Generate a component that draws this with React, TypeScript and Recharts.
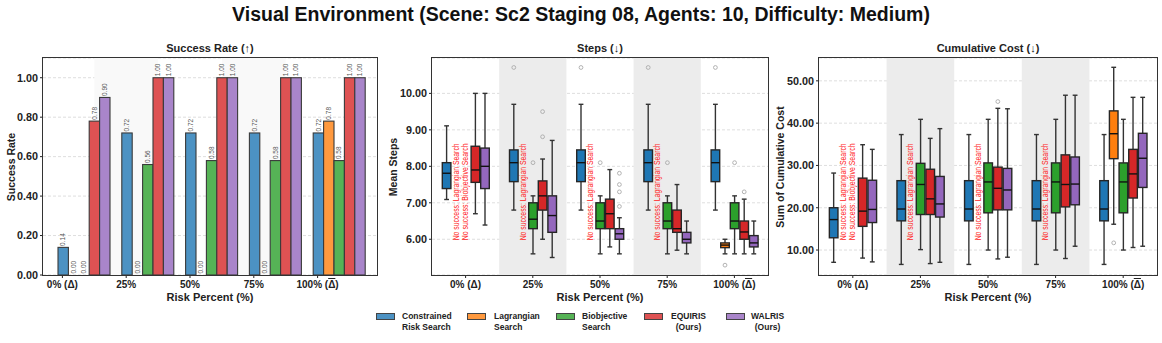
import { BarChart, Bar, XAxis, YAxis, CartesianGrid, ReferenceArea } from 'recharts';

const RISK_LABELS = ['0% (Δ)', '25%', '50%', '75%', '100% (Δ̄)'];
const METHOD_NAMES = ['Constrained Risk Search', 'Lagrangian Search', 'Biobjective Search', 'EQUIRIS (Ours)', 'WALRIS (Ours)'];
const LEGEND_LINES = [['Constrained', 'Risk Search'], ['Lagrangian', 'Search'], ['Biobjective', 'Search'], ['EQUIRIS', '(Ours)'], ['WALRIS', '(Ours)']];
const SHADED_GROUPS = [1, 3];

// success rate per risk level
const SUCCESS_CRS = [0.14, 0.72, 0.72, 0.72, 0.72];
const SUCCESS_LAG = [0.0, 0.0, 0.0, 0.0, 0.78];
const SUCCESS_BIO = [0.0, 0.56, 0.58, 0.58, 0.58];
const SUCCESS_EQU = [0.78, 1.0, 1.0, 1.0, 1.0];
const SUCCESS_WAL = [0.9, 1.0, 1.0, 1.0, 1.0];
const SUCCESS_TICKS = [0, 0.2, 0.4, 0.6, 0.8, 1.0];

// box stats: [lower whisker, q1, median, q3, upper whisker], null = no success
const STEPS_CRS = [[7.09, 7.39, 7.81, 8.1, 9.11], [6.8, 7.58, 8.1, 8.45, 9.7], [6.8, 7.58, 8.1, 8.45, 9.7], [6.8, 7.58, 8.1, 8.45, 9.7], [6.8, 7.58, 8.1, 8.45, 9.7]];
const STEPS_LAG = [null, null, null, null, [5.6, 5.77, 5.84, 5.9, 6.0]];
const STEPS_BIO = [null, [5.6, 6.29, 6.55, 7.0, 7.19], [5.6, 6.29, 6.5, 7.0, 7.19], [5.6, 6.29, 6.5, 7.0, 7.19], [5.6, 6.29, 6.5, 7.0, 7.19]];
const STEPS_EQU = [[6.7, 7.56, 7.9, 8.55, 10.0], [6.0, 6.8, 7.19, 7.6, 8.2], [5.79, 6.29, 6.7, 7.1, 7.91], [5.7, 6.19, 6.29, 6.8, 7.5], [5.6, 6.0, 6.2, 6.5, 7.1]];
const STEPS_WAL = [[6.39, 7.39, 8.0, 8.5, 10.0], [5.5, 6.19, 6.65, 7.19, 8.71], [5.6, 6.0, 6.15, 6.29, 6.59], [5.6, 5.9, 6.0, 6.19, 6.5], [5.6, 5.79, 5.9, 6.1, 6.5]];
const STEPS_CRS_OUT = [[], [10.71], [10.71], [10.71], [10.71]];
const STEPS_LAG_OUT = [[], [], [], [], [5.29]];
const STEPS_BIO_OUT = [[], [8.1], [8.1], [8.1], [8.1]];
const STEPS_EQU_OUT = [[], [9.5, 8.81], [], [], [7.3]];
const STEPS_WAL_OUT = [[], [], [7.81, 7.5, 7.3, 6.9], [], []];
const STEPS_TICKS = [6, 7, 8, 9, 10];

const COST_CRS = [[7.1, 12.9, 17.2, 20.0, 28.2], [6.6, 16.9, 19.7, 26.4, 37.3], [6.6, 16.9, 19.7, 26.4, 37.3], [6.6, 16.9, 19.7, 26.4, 37.3], [6.6, 16.9, 19.7, 26.4, 37.3]];
const COST_LAG = [null, null, null, null, [16.1, 31.6, 37.5, 42.9, 53.2]];
const COST_BIO = [null, [10.1, 18.4, 25.5, 30.5, 40.9], [10.0, 18.8, 26.1, 30.6, 40.9], [10.0, 18.8, 26.1, 30.6, 40.9], [10.0, 18.8, 26.1, 30.6, 40.9]];
const COST_EQU = [[8.1, 15.6, 19.2, 27.0, 34.9], [6.8, 18.4, 22.1, 29.1, 36.4], [7.9, 19.5, 24.6, 29.6, 43.5], [8.0, 20.2, 25.5, 32.5, 46.6], [10.6, 22.3, 28.0, 33.8, 46.1]];
const COST_WAL = [[7.2, 16.5, 19.6, 26.5, 33.8], [7.1, 17.8, 20.9, 27.4, 38.7], [8.3, 19.5, 24.2, 29.3, 43.4], [10.9, 20.7, 25.6, 32.0, 46.6], [10.9, 24.8, 31.7, 37.6, 46.1]];
const COST_CRS_OUT = [[], [], [], [], []];
const COST_LAG_OUT = [[], [], [], [], [11.7]];
const COST_BIO_OUT = [[], [], [], [], []];
const COST_EQU_OUT = [[], [], [45.1], [], []];
const COST_WAL_OUT = [[], [], [], [], []];
const COST_TICKS = [10, 20, 30, 40, 50];

const BAR_FILL = ['#4c92c3', '#ff993e', '#56b356', '#de5253', '#a985ca'];
const BOX_FILL = ['#1f77b4', '#ff7f0e', '#2ca02c', '#d62728', '#9467bd'];
const SUCCESS_KEYS = ['crs', 'lag', 'bio', 'equ', 'wal'];
const BAR_SIZE = 10.4;
const TICK_SHIFT = 21.5;
const FONT = "'Liberation Sans', Arial, sans-serif";
const INK = '#222';

const successRows = RISK_LABELS.map((risk, i) => ({
    risk,
    crs: SUCCESS_CRS[i],
    lag: SUCCESS_LAG[i],
    bio: SUCCESS_BIO[i],
    equ: SUCCESS_EQU[i],
    wal: SUCCESS_WAL[i],
}));

// 7 slots per risk level: gap, 5 methods, gap
function buildSlots(stats: any[][], outliers: number[][][], noteAt: number) {
    const rows: any[] = [];
    RISK_LABELS.forEach((label, g) => {
        for (let s = 0; s < 7; s++) {
            const m = s - 1;
            const row: any = { key: `${g}-${s}`, label: s === 3 ? label : '', kind: 'gap' };
            if (m >= 0 && m < 5) {
                const st = stats[m][g];
                if (st) {
                    const out = outliers[m][g];
                    Object.assign(row, {
                        kind: 'box', stat: st, out, color: BOX_FILL[m],
                        lo: Math.min(st[0], ...out), hi: Math.max(st[4], ...out),
                    });
                } else {
                    Object.assign(row, { kind: 'note', text: `No success: ${METHOD_NAMES[m]}`, lo: noteAt, hi: noteAt + 1 });
                }
            }
            rows.push(row);
        }
    });
    return rows;
}

const stepsRows = buildSlots(
    [STEPS_CRS, STEPS_LAG, STEPS_BIO, STEPS_EQU, STEPS_WAL],
    [STEPS_CRS_OUT, STEPS_LAG_OUT, STEPS_BIO_OUT, STEPS_EQU_OUT, STEPS_WAL_OUT],
    5.97
);
const costRows = buildSlots(
    [COST_CRS, COST_LAG, COST_BIO, COST_EQU, COST_WAL],
    [COST_CRS_OUT, COST_LAG_OUT, COST_BIO_OUT, COST_EQU_OUT, COST_WAL_OUT],
    12.3
);

const rangeOf = (d: any) => (d.kind === 'gap' ? null : [d.lo, d.hi]);

function TickText({ x, y, label }: { x: number; y: number; label: string }) {
    const barred = label.includes('\u0304');
    return (
        <text x={x} y={y} dy="0.8em" textAnchor="middle" fontSize={10} fontWeight={700} fill={INK}>
            {barred ? (
                <>
                    {label.split('Δ')[0]}
                    <tspan style={{ textDecoration: 'overline' }}>Δ</tspan>)
                </>
            ) : label}
        </text>
    );
}

function BarTick(props: any) {
    const { x, y, payload } = props;
    const tx = x - TICK_SHIFT;
    return (
        <g>
            <line x1={tx} x2={tx} y1={y - 5} y2={y - 2} stroke={INK} />
            <TickText x={tx} y={y} label={payload.value} />
        </g>
    );
}

function SlotTick(props: any) {
    const { x, y, payload, rows } = props;
    const row = rows.find((r: any) => r.key === payload.value);
    if (!row || !row.label) return <g />;
    return (
        <g>
            <line x1={x} x2={x} y1={y - 5} y2={y - 2} stroke={INK} />
            <TickText x={x} y={y} label={row.label} />
        </g>
    );
}

// bar rectangle plus its rotated value label (also drawn for zero bars)
function SuccessBar(props: any) {
    const { x, y, width, height, fill, payload, field } = props;
    const v = payload ? payload[field] : 0;
    const cx = x + width / 2;
    const ty = y - 1.5;
    return (
        <g>
            {height > 0.5 && (
                <rect x={x} y={y} width={width} height={height} fill={fill} stroke="#3a3a3a" strokeWidth={1.1} />
            )}
            <text x={cx} y={ty} dy="0.35em" transform={`rotate(-90 ${cx} ${ty})`} fontSize={6.5} fill="#555" textAnchor="start">
                {Number(v).toFixed(2)}
            </text>
        </g>
    );
}

function BoxShape(props: any) {
    const { x, y, width, height, payload } = props;
    if (!payload || payload.kind === 'gap') return <g />;
    const cx = x + width / 2;
    const ppu = height / (payload.hi - payload.lo);
    const py = (v: number) => y + (payload.hi - v) * ppu;
    if (payload.kind === 'note') {
        const tx = cx - 1;
        const by = y + height;
        return (
            <text x={tx} y={by} dy="0.35em" transform={`rotate(-90 ${tx} ${by})`} fontSize={9.5} fill="#f22"
                textLength={97} lengthAdjust="spacingAndGlyphs">
                {payload.text}
            </text>
        );
    }
    const [w0, q1, md, q3, w1] = payload.stat;
    const hw = 4.3;
    const cap = 2.4;
    return (
        <g>
            <line x1={cx} x2={cx} y1={py(w1)} y2={py(q3)} stroke="#333" strokeWidth={1.4} />
            <line x1={cx} x2={cx} y1={py(q1)} y2={py(w0)} stroke="#333" strokeWidth={1.4} />
            <line x1={cx - cap} x2={cx + cap} y1={py(w1)} y2={py(w1)} stroke="#333" strokeWidth={1.4} />
            <line x1={cx - cap} x2={cx + cap} y1={py(w0)} y2={py(w0)} stroke="#333" strokeWidth={1.4} />
            <rect x={cx - hw} y={py(q3)} width={hw * 2} height={py(q1) - py(q3)} fill={payload.color} stroke="#262626" strokeWidth={1.4} />
            <line x1={cx - hw} x2={cx + hw} y1={py(md)} y2={py(md)} stroke="#111" strokeWidth={1.4} />
            {payload.out.map((v: number, i: number) => (
                <circle key={i} cx={cx} cy={py(v)} r={1.9} fill="none" stroke="#aaa" strokeWidth={0.9} />
            ))}
        </g>
    );
}

const TOP = 40;
const CH = 270;
const PLOT_TOP = 58;
const PLOT_BOTTOM = 275;

function Frame({ left, right }: { left: number; right: number }) {
    return (
        <div style={{
            position: 'absolute', left: left - 1, top: PLOT_TOP - 1, width: right - left + 2, height: PLOT_BOTTOM - PLOT_TOP + 2,
            border: '1px solid #333', boxSizing: 'border-box', pointerEvents: 'none',
        }} />
    );
}

function Titles({ left, right, title, ylabel, yx }: any) {
    const cx = (left + right) / 2;
    return (
        <>
            <div style={{ position: 'absolute', left: cx - 150, width: 300, top: 42, textAlign: 'center', fontSize: 11, fontWeight: 700, color: INK }}>{title}</div>
            <div style={{ position: 'absolute', left: cx - 100, width: 200, top: 291, textAlign: 'center', fontSize: 11, fontWeight: 700, color: INK }}>Risk Percent (%)</div>
            <div style={{
                position: 'absolute', left: yx, top: (PLOT_TOP + PLOT_BOTTOM) / 2, transform: 'translate(-50%, -50%) rotate(-90deg)',
                whiteSpace: 'nowrap', fontSize: 10.5, fontWeight: 700, color: INK,
            }}>{ylabel}</div>
        </>
    );
}

function BoxPanel({ rows, domain, ticks, left, width, margin }: any) {
    return (
        <div style={{ position: 'absolute', left, top: TOP }}>
            <BarChart width={width} height={CH} data={rows} margin={margin} barCategoryGap={0}>
                {SHADED_GROUPS.map((g) => (
                    <ReferenceArea key={g} x1={`${g}-0`} x2={`${g}-6`} fill="#ececec" fillOpacity={1} stroke="none" ifOverflow="hidden" />
                ))}
                <CartesianGrid vertical={false} strokeDasharray="3 2" stroke="#d0d0d0" strokeWidth={0.7} />
                <XAxis dataKey="key" type="category" interval={0} height={30} tickSize={3} tickMargin={2}
                    axisLine={false} tickLine={false} tick={(p: any) => <SlotTick {...p} rows={rows} />} />
                <YAxis type="number" domain={domain} allowDataOverflow ticks={ticks} width={39} tickSize={3} tickMargin={2}
                    axisLine={false} tickLine={{ stroke: INK }} tick={{ fontSize: 10.8, fontWeight: 700, fill: INK }}
                    tickFormatter={(v: number) => v.toFixed(2)} />
                <Bar dataKey={rangeOf} shape={BoxShape} isAnimationActive={false} />
            </BarChart>
        </div>
    );
}

export default function App() {
    return (
        <div style={{ position: 'absolute', left: 0, top: 0, width: 1162, height: 343, background: '#fff', overflow: 'hidden', fontFamily: FONT }}>
            <div style={{ position: 'absolute', left: 0, width: 1162, top: 3, textAlign: 'center', fontSize: 19.5, fontWeight: 700, color: '#111' }}>
                Visual Environment (Scene: Sc2 Staging 08, Agents: 10, Difficulty: Medium)
            </div>

            {/* success rate */}
            <div style={{ position: 'absolute', left: 0, top: TOP }}>
                <BarChart width={385} height={CH} data={successRows} margin={{ top: 18, right: 8, bottom: 5, left: 8 }}
                    barGap={0} barSize={BAR_SIZE}>
                    {SHADED_GROUPS.map((g) => (
                        <ReferenceArea key={g} x1={RISK_LABELS[g]} x2={RISK_LABELS[g]} stroke="none"
                            shape={(p: any) => <rect x={p.x - TICK_SHIFT} y={p.y} width={p.width} height={p.height} fill="#f9f9f9" />} />
                    ))}
                    <CartesianGrid vertical={false} strokeDasharray="3 2" stroke="#d0d0d0" strokeWidth={0.7} />
                    <XAxis dataKey="risk" type="category" height={30} tickSize={3} tickMargin={2} padding={{ left: 9, right: 6 }}
                        axisLine={false} tickLine={false} tick={<BarTick />} interval={0} />
                    <YAxis type="number" domain={[0, 1.1]} ticks={SUCCESS_TICKS} width={35} tickSize={3} tickMargin={2}
                        axisLine={false} tickLine={{ stroke: INK }} tick={{ fontSize: 10.8, fontWeight: 700, fill: INK }}
                        tickFormatter={(v: number) => v.toFixed(2)} />
                    {SUCCESS_KEYS.map((k, i) => (
                        <Bar key={k} dataKey={k} fill={BAR_FILL[i]} minPointSize={0.01} isAnimationActive={false}
                            shape={(p: any) => <SuccessBar {...p} field={k} />} />
                    ))}
                </BarChart>
            </div>
            <Frame left={43} right={377} />
            <Titles left={43} right={377} title="Success Rate (↑)" ylabel="Success Rate" yx={11} />

            {/* steps */}
            <BoxPanel rows={stepsRows} domain={[5.02, 10.97]} ticks={STEPS_TICKS} left={385} width={390}
                margin={{ top: 18, right: 7, bottom: 5, left: 8 }} />
            <Frame left={432} right={768} />
            <Titles left={432} right={768} title="Steps (↓)" ylabel="Mean Steps" yx={393} />

            {/* cumulative cost */}
            <BoxPanel rows={costRows} domain={[4.1, 55.4]} ticks={COST_TICKS} left={775} width={387}
                margin={{ top: 18, right: 5, bottom: 5, left: 5 }} />
            <Frame left={819} right={1157} />
            <Titles left={819} right={1157} title="Cumulative Cost (↓)" ylabel="Sum of Cumulative Cost" yx={780} />

            {/* legend */}
            {LEGEND_LINES.map((lines, i) => {
                const px = [376, 467, 556, 644, 726][i];
                const tx = [402, 494, 582, 671, 751][i];
                return (
                    <div key={i}>
                        <div style={{ position: 'absolute', left: px, top: 313, width: 19, height: 7, background: BAR_FILL[i], border: '1px solid #444', boxSizing: 'border-box' }} />
                        <div style={{ position: 'absolute', left: tx, top: 311, fontSize: 8.5, fontWeight: 700, lineHeight: '11px', color: INK, textAlign: i >= 3 ? 'center' : 'left' }}>
                            {lines[0]}<br />{lines[1]}
                        </div>
                    </div>
                );
            })}
        </div>
    );
}
